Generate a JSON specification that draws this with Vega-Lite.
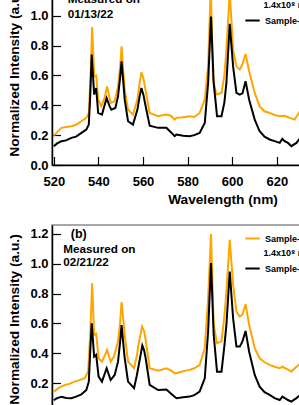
{
  "$schema": "https://vega.github.io/schema/vega-lite/v6.json",
  "padding": {"left": 7, "top": -24, "right": -93, "bottom": -15},
  "background": "white",
  "spacing": 60,
  "bounds": "flush",
  "resolve": {"scale": {"color": "independent"}, "legend": {"color": "independent"}},
  "config": {
    "font": "Liberation Sans",
    "view": {"stroke": "#8c8c8c", "strokeWidth": 1.5},
    "axis": {
      "grid": false,
      "labelFont": "Liberation Sans", "labelFontWeight": "bold", "labelFontSize": 13, "labelColor": "#000",
      "titleFont": "Liberation Sans", "titleFontWeight": "bold", "titleFontSize": 13.7, "titleColor": "#000",
      "domainColor": "#000", "domainWidth": 1.5, "tickColor": "#000", "tickWidth": 1.2,
      "labelFlush": false, "labelOverlap": false
    },
    "legend": {"padding": 0}
  },
  "datasets": {
    "spectra": [
      {"panel":"a","series":"Sample-3","wl":520.0,"val":0.197},{"panel":"a","series":"Sample-3","wl":523.4,"val":0.249},{"panel":"a","series":"Sample-3","wl":525.5,"val":0.255},{"panel":"a","series":"Sample-3","wl":527.9,"val":0.26},{"panel":"a","series":"Sample-3","wl":530,"val":0.27},{"panel":"a","series":"Sample-3","wl":532.4,"val":0.293},{"panel":"a","series":"Sample-3","wl":534.6,"val":0.316},{"panel":"a","series":"Sample-3","wl":535.7,"val":0.349},{"panel":"a","series":"Sample-3","wl":536.5,"val":0.6},{"panel":"a","series":"Sample-3","wl":537.2,"val":0.924},{"panel":"a","series":"Sample-3","wl":538.1,"val":0.594},{"panel":"a","series":"Sample-3","wl":539.0,"val":0.6},{"panel":"a","series":"Sample-3","wl":539.9,"val":0.438},{"panel":"a","series":"Sample-3","wl":541.3,"val":0.393},{"panel":"a","series":"Sample-3","wl":542.8,"val":0.45},{"panel":"a","series":"Sample-3","wl":543.9,"val":0.527},{"panel":"a","series":"Sample-3","wl":545.5,"val":0.416},{"panel":"a","series":"Sample-3","wl":547.3,"val":0.427},{"panel":"a","series":"Sample-3","wl":548.8,"val":0.527},{"panel":"a","series":"Sample-3","wl":549.7,"val":0.65},{"panel":"a","series":"Sample-3","wl":550.4,"val":0.795},{"panel":"a","series":"Sample-3","wl":551.2,"val":0.62},{"panel":"a","series":"Sample-3","wl":551.8,"val":0.505},{"panel":"a","series":"Sample-3","wl":553.3,"val":0.371},{"panel":"a","series":"Sample-3","wl":555.5,"val":0.338},{"panel":"a","series":"Sample-3","wl":557.5,"val":0.438},{"panel":"a","series":"Sample-3","wl":558.5,"val":0.55},{"panel":"a","series":"Sample-3","wl":559.3,"val":0.621},{"panel":"a","series":"Sample-3","wl":560.2,"val":0.58},{"panel":"a","series":"Sample-3","wl":561.1,"val":0.505},{"panel":"a","series":"Sample-3","wl":563.0,"val":0.349},{"panel":"a","series":"Sample-3","wl":566.8,"val":0.327},{"panel":"a","series":"Sample-3","wl":570.5,"val":0.338},{"panel":"a","series":"Sample-3","wl":572.5,"val":0.33},{"panel":"a","series":"Sample-3","wl":574.2,"val":0.304},{"panel":"a","series":"Sample-3","wl":575.0,"val":0.316},{"panel":"a","series":"Sample-3","wl":578,"val":0.32},{"panel":"a","series":"Sample-3","wl":580.9,"val":0.327},{"panel":"a","series":"Sample-3","wl":583,"val":0.322},{"panel":"a","series":"Sample-3","wl":585.4,"val":0.349},{"panel":"a","series":"Sample-3","wl":587.7,"val":0.438},{"panel":"a","series":"Sample-3","wl":589.2,"val":0.661},{"panel":"a","series":"Sample-3","wl":590.4,"val":1.2},{"panel":"a","series":"Sample-3","wl":591.4,"val":0.572},{"panel":"a","series":"Sample-3","wl":592.9,"val":0.472},{"panel":"a","series":"Sample-3","wl":595.2,"val":0.483},{"panel":"a","series":"Sample-3","wl":596.5,"val":0.6},{"panel":"a","series":"Sample-3","wl":597.4,"val":0.773},{"panel":"a","series":"Sample-3","wl":598.9,"val":1.16},{"panel":"a","series":"Sample-3","wl":600.4,"val":0.773},{"panel":"a","series":"Sample-3","wl":601.9,"val":0.661},{"panel":"a","series":"Sample-3","wl":603.4,"val":0.639},{"panel":"a","series":"Sample-3","wl":604.5,"val":0.672},{"panel":"a","series":"Sample-3","wl":606.0,"val":0.744},{"panel":"a","series":"Sample-3","wl":607.6,"val":0.627},{"panel":"a","series":"Sample-3","wl":610.1,"val":0.483},{"panel":"a","series":"Sample-3","wl":612.3,"val":0.393},{"panel":"a","series":"Sample-3","wl":614.5,"val":0.36},{"panel":"a","series":"Sample-3","wl":616.8,"val":0.349},{"panel":"a","series":"Sample-3","wl":619,"val":0.335},{"panel":"a","series":"Sample-3","wl":621.3,"val":0.327},{"panel":"a","series":"Sample-3","wl":623.5,"val":0.33},{"panel":"a","series":"Sample-3","wl":625.8,"val":0.316},{"panel":"a","series":"Sample-3","wl":628.0,"val":0.304},{"panel":"a","series":"Sample-3","wl":630.3,"val":0.36},{"panel":"a","series":"Sample-3","wl":632,"val":0.38},

      {"panel":"a","series":"Sample-5","wl":520.0,"val":0.126},{"panel":"a","series":"Sample-5","wl":521.5,"val":0.145},{"panel":"a","series":"Sample-5","wl":523.4,"val":0.159},{"panel":"a","series":"Sample-5","wl":525.5,"val":0.165},{"panel":"a","series":"Sample-5","wl":527.9,"val":0.182},{"panel":"a","series":"Sample-5","wl":530,"val":0.19},{"panel":"a","series":"Sample-5","wl":532.4,"val":0.215},{"panel":"a","series":"Sample-5","wl":534.6,"val":0.237},{"panel":"a","series":"Sample-5","wl":535.7,"val":0.271},{"panel":"a","series":"Sample-5","wl":536.3,"val":0.45},{"panel":"a","series":"Sample-5","wl":537.0,"val":0.74},{"panel":"a","series":"Sample-5","wl":538.1,"val":0.472},{"panel":"a","series":"Sample-5","wl":539.0,"val":0.516},{"panel":"a","series":"Sample-5","wl":539.9,"val":0.349},{"panel":"a","series":"Sample-5","wl":541.6,"val":0.338},{"panel":"a","series":"Sample-5","wl":543.7,"val":0.449},{"panel":"a","series":"Sample-5","wl":545.0,"val":0.394},{"panel":"a","series":"Sample-5","wl":545.8,"val":0.371},{"panel":"a","series":"Sample-5","wl":547.6,"val":0.382},{"panel":"a","series":"Sample-5","wl":548.8,"val":0.46},{"panel":"a","series":"Sample-5","wl":549.7,"val":0.58},{"panel":"a","series":"Sample-5","wl":550.4,"val":0.694},{"panel":"a","series":"Sample-5","wl":551.2,"val":0.55},{"panel":"a","series":"Sample-5","wl":551.8,"val":0.438},{"panel":"a","series":"Sample-5","wl":553.3,"val":0.293},{"panel":"a","series":"Sample-5","wl":555.5,"val":0.271},{"panel":"a","series":"Sample-5","wl":557.5,"val":0.371},{"panel":"a","series":"Sample-5","wl":558.5,"val":0.46},{"panel":"a","series":"Sample-5","wl":559.3,"val":0.516},{"panel":"a","series":"Sample-5","wl":560.2,"val":0.47},{"panel":"a","series":"Sample-5","wl":561.2,"val":0.394},{"panel":"a","series":"Sample-5","wl":563.0,"val":0.264},{"panel":"a","series":"Sample-5","wl":566.8,"val":0.249},{"panel":"a","series":"Sample-5","wl":570.5,"val":0.249},{"panel":"a","series":"Sample-5","wl":572.5,"val":0.22},{"panel":"a","series":"Sample-5","wl":574.2,"val":0.193},{"panel":"a","series":"Sample-5","wl":575.0,"val":0.204},{"panel":"a","series":"Sample-5","wl":578,"val":0.196},{"panel":"a","series":"Sample-5","wl":580.9,"val":0.193},{"panel":"a","series":"Sample-5","wl":583,"val":0.2},{"panel":"a","series":"Sample-5","wl":585.4,"val":0.215},{"panel":"a","series":"Sample-5","wl":587.7,"val":0.282},{"panel":"a","series":"Sample-5","wl":589.2,"val":0.55},{"panel":"a","series":"Sample-5","wl":590.5,"val":0.995},{"panel":"a","series":"Sample-5","wl":591.7,"val":0.55},{"panel":"a","series":"Sample-5","wl":593.2,"val":0.327},{"panel":"a","series":"Sample-5","wl":595.2,"val":0.327},{"panel":"a","series":"Sample-5","wl":596.5,"val":0.42},{"panel":"a","series":"Sample-5","wl":597.4,"val":0.55},{"panel":"a","series":"Sample-5","wl":598.9,"val":0.946},{"panel":"a","series":"Sample-5","wl":600.4,"val":0.661},{"panel":"a","series":"Sample-5","wl":601.9,"val":0.483},{"panel":"a","series":"Sample-5","wl":603.4,"val":0.472},{"panel":"a","series":"Sample-5","wl":604.6,"val":0.48},{"panel":"a","series":"Sample-5","wl":606.0,"val":0.561},{"panel":"a","series":"Sample-5","wl":607.6,"val":0.438},{"panel":"a","series":"Sample-5","wl":610.1,"val":0.304},{"panel":"a","series":"Sample-5","wl":612.3,"val":0.226},{"panel":"a","series":"Sample-5","wl":614.5,"val":0.19},{"panel":"a","series":"Sample-5","wl":616.8,"val":0.171},{"panel":"a","series":"Sample-5","wl":619,"val":0.16},{"panel":"a","series":"Sample-5","wl":621.3,"val":0.148},{"panel":"a","series":"Sample-5","wl":622.5,"val":0.175},{"panel":"a","series":"Sample-5","wl":623.5,"val":0.16},{"panel":"a","series":"Sample-5","wl":625,"val":0.148},{"panel":"a","series":"Sample-5","wl":626.5,"val":0.126},{"panel":"a","series":"Sample-5","wl":628.8,"val":0.148},{"panel":"a","series":"Sample-5","wl":630.5,"val":0.18},{"panel":"a","series":"Sample-5","wl":632,"val":0.19},

      {"panel":"b","series":"Sample-3","wl":520.0,"val":0.143},{"panel":"b","series":"Sample-3","wl":522.5,"val":0.17},{"panel":"b","series":"Sample-3","wl":524.9,"val":0.188},{"panel":"b","series":"Sample-3","wl":527,"val":0.195},{"panel":"b","series":"Sample-3","wl":529.4,"val":0.21},{"panel":"b","series":"Sample-3","wl":531.5,"val":0.22},{"panel":"b","series":"Sample-3","wl":533.9,"val":0.233},{"panel":"b","series":"Sample-3","wl":535.4,"val":0.277},{"panel":"b","series":"Sample-3","wl":536.4,"val":0.55},{"panel":"b","series":"Sample-3","wl":537.2,"val":0.87},{"panel":"b","series":"Sample-3","wl":538.1,"val":0.523},{"panel":"b","series":"Sample-3","wl":539.0,"val":0.53},{"panel":"b","series":"Sample-3","wl":540.1,"val":0.367},{"panel":"b","series":"Sample-3","wl":541.6,"val":0.344},{"panel":"b","series":"Sample-3","wl":543.0,"val":0.39},{"panel":"b","series":"Sample-3","wl":543.9,"val":0.423},{"panel":"b","series":"Sample-3","wl":545.5,"val":0.344},{"panel":"b","series":"Sample-3","wl":547.0,"val":0.378},{"panel":"b","series":"Sample-3","wl":548.8,"val":0.479},{"panel":"b","series":"Sample-3","wl":549.7,"val":0.6},{"panel":"b","series":"Sample-3","wl":550.4,"val":0.743},{"panel":"b","series":"Sample-3","wl":551.2,"val":0.62},{"panel":"b","series":"Sample-3","wl":551.8,"val":0.523},{"panel":"b","series":"Sample-3","wl":553.3,"val":0.344},{"panel":"b","series":"Sample-3","wl":556.0,"val":0.3},{"panel":"b","series":"Sample-3","wl":557.2,"val":0.38},{"panel":"b","series":"Sample-3","wl":558.1,"val":0.468},{"panel":"b","series":"Sample-3","wl":559.6,"val":0.579},{"panel":"b","series":"Sample-3","wl":560.5,"val":0.55},{"panel":"b","series":"Sample-3","wl":561.2,"val":0.49},{"panel":"b","series":"Sample-3","wl":563.0,"val":0.3},{"panel":"b","series":"Sample-3","wl":566.8,"val":0.284},{"panel":"b","series":"Sample-3","wl":570.5,"val":0.3},{"panel":"b","series":"Sample-3","wl":572.5,"val":0.285},{"panel":"b","series":"Sample-3","wl":574.2,"val":0.266},{"panel":"b","series":"Sample-3","wl":575.0,"val":0.266},{"panel":"b","series":"Sample-3","wl":578,"val":0.28},{"panel":"b","series":"Sample-3","wl":580.9,"val":0.289},{"panel":"b","series":"Sample-3","wl":583,"val":0.3},{"panel":"b","series":"Sample-3","wl":585.4,"val":0.322},{"panel":"b","series":"Sample-3","wl":587.7,"val":0.434},{"panel":"b","series":"Sample-3","wl":589.2,"val":0.77},{"panel":"b","series":"Sample-3","wl":590.5,"val":1.199},{"panel":"b","series":"Sample-3","wl":591.7,"val":0.59},{"panel":"b","series":"Sample-3","wl":593.2,"val":0.468},{"panel":"b","series":"Sample-3","wl":595.2,"val":0.48},{"panel":"b","series":"Sample-3","wl":596.5,"val":0.65},{"panel":"b","series":"Sample-3","wl":597.4,"val":0.814},{"panel":"b","series":"Sample-3","wl":598.9,"val":1.161},{"panel":"b","series":"Sample-3","wl":600.4,"val":0.859},{"panel":"b","series":"Sample-3","wl":601.9,"val":0.68},{"panel":"b","series":"Sample-3","wl":603.4,"val":0.646},{"panel":"b","series":"Sample-3","wl":604.6,"val":0.66},{"panel":"b","series":"Sample-3","wl":606.0,"val":0.729},{"panel":"b","series":"Sample-3","wl":607.6,"val":0.59},{"panel":"b","series":"Sample-3","wl":610.1,"val":0.434},{"panel":"b","series":"Sample-3","wl":612.3,"val":0.367},{"panel":"b","series":"Sample-3","wl":614.5,"val":0.34},{"panel":"b","series":"Sample-3","wl":616.8,"val":0.322},{"panel":"b","series":"Sample-3","wl":619,"val":0.31},{"panel":"b","series":"Sample-3","wl":621.3,"val":0.3},{"panel":"b","series":"Sample-3","wl":622.5,"val":0.31},{"panel":"b","series":"Sample-3","wl":625,"val":0.29},{"panel":"b","series":"Sample-3","wl":626.5,"val":0.277},{"panel":"b","series":"Sample-3","wl":628.8,"val":0.31},{"panel":"b","series":"Sample-3","wl":630.5,"val":0.33},{"panel":"b","series":"Sample-3","wl":632,"val":0.34},

      {"panel":"b","series":"Sample-5","wl":520.0,"val":0.087},{"panel":"b","series":"Sample-5","wl":521.5,"val":0.1},{"panel":"b","series":"Sample-5","wl":523.4,"val":0.109},{"panel":"b","series":"Sample-5","wl":525.5,"val":0.1},{"panel":"b","series":"Sample-5","wl":527.9,"val":0.099},{"panel":"b","series":"Sample-5","wl":530,"val":0.11},{"panel":"b","series":"Sample-5","wl":532.4,"val":0.125},{"panel":"b","series":"Sample-5","wl":534.6,"val":0.154},{"panel":"b","series":"Sample-5","wl":535.7,"val":0.21},{"panel":"b","series":"Sample-5","wl":536.3,"val":0.4},{"panel":"b","series":"Sample-5","wl":537.0,"val":0.602},{"panel":"b","series":"Sample-5","wl":538.1,"val":0.378},{"panel":"b","series":"Sample-5","wl":539.0,"val":0.39},{"panel":"b","series":"Sample-5","wl":540.1,"val":0.244},{"panel":"b","series":"Sample-5","wl":541.6,"val":0.21},{"panel":"b","series":"Sample-5","wl":543.7,"val":0.3},{"panel":"b","series":"Sample-5","wl":545.5,"val":0.221},{"panel":"b","series":"Sample-5","wl":547.3,"val":0.255},{"panel":"b","series":"Sample-5","wl":548.8,"val":0.344},{"panel":"b","series":"Sample-5","wl":549.7,"val":0.47},{"panel":"b","series":"Sample-5","wl":550.4,"val":0.59},{"panel":"b","series":"Sample-5","wl":551.2,"val":0.46},{"panel":"b","series":"Sample-5","wl":551.8,"val":0.367},{"panel":"b","series":"Sample-5","wl":553.3,"val":0.21},{"panel":"b","series":"Sample-5","wl":556.0,"val":0.166},{"panel":"b","series":"Sample-5","wl":557.2,"val":0.25},{"panel":"b","series":"Sample-5","wl":558.1,"val":0.322},{"panel":"b","series":"Sample-5","wl":559.7,"val":0.452},{"panel":"b","series":"Sample-5","wl":560.5,"val":0.42},{"panel":"b","series":"Sample-5","wl":561.2,"val":0.367},{"panel":"b","series":"Sample-5","wl":563.0,"val":0.188},{"panel":"b","series":"Sample-5","wl":566.8,"val":0.154},{"panel":"b","series":"Sample-5","wl":570.5,"val":0.158},{"panel":"b","series":"Sample-5","wl":572.5,"val":0.13},{"panel":"b","series":"Sample-5","wl":574.2,"val":0.109},{"panel":"b","series":"Sample-5","wl":575.0,"val":0.099},{"panel":"b","series":"Sample-5","wl":578,"val":0.105},{"panel":"b","series":"Sample-5","wl":580.9,"val":0.11},{"panel":"b","series":"Sample-5","wl":583,"val":0.12},{"panel":"b","series":"Sample-5","wl":585.4,"val":0.143},{"panel":"b","series":"Sample-5","wl":587.7,"val":0.233},{"panel":"b","series":"Sample-5","wl":589.2,"val":0.546},{"panel":"b","series":"Sample-5","wl":590.5,"val":1.005},{"panel":"b","series":"Sample-5","wl":591.7,"val":0.523},{"panel":"b","series":"Sample-5","wl":593.2,"val":0.277},{"panel":"b","series":"Sample-5","wl":595.2,"val":0.277},{"panel":"b","series":"Sample-5","wl":596.5,"val":0.45},{"panel":"b","series":"Sample-5","wl":597.4,"val":0.59},{"panel":"b","series":"Sample-5","wl":598.9,"val":0.948},{"panel":"b","series":"Sample-5","wl":600.4,"val":0.635},{"panel":"b","series":"Sample-5","wl":601.9,"val":0.445},{"panel":"b","series":"Sample-5","wl":603.4,"val":0.445},{"panel":"b","series":"Sample-5","wl":604.6,"val":0.48},{"panel":"b","series":"Sample-5","wl":606.0,"val":0.55},{"panel":"b","series":"Sample-5","wl":607.6,"val":0.411},{"panel":"b","series":"Sample-5","wl":610.1,"val":0.255},{"panel":"b","series":"Sample-5","wl":612.3,"val":0.177},{"panel":"b","series":"Sample-5","wl":614.5,"val":0.14},{"panel":"b","series":"Sample-5","wl":616.8,"val":0.121},{"panel":"b","series":"Sample-5","wl":619,"val":0.1},{"panel":"b","series":"Sample-5","wl":621.3,"val":0.087},{"panel":"b","series":"Sample-5","wl":622.5,"val":0.11},{"panel":"b","series":"Sample-5","wl":625,"val":0.087},{"panel":"b","series":"Sample-5","wl":626.5,"val":0.076},{"panel":"b","series":"Sample-5","wl":628.8,"val":0.1},{"panel":"b","series":"Sample-5","wl":630.5,"val":0.12},{"panel":"b","series":"Sample-5","wl":632,"val":0.13}
    ],
    "tags": [
      {"panel":"a","label":"(a)","wl":529.5,"val":1.173},
      {"panel":"b","label":"(b)","wl":527.6,"val":1.173}
    ],
    "notes": [
      {"panel":"a","label":"Measured on","wl":526.3,"val":1.084},
      {"panel":"a","label":"01/13/22","wl":526.3,"val":0.983},
      {"panel":"b","label":"Measured on","wl":524.3,"val":1.07},
      {"panel":"b","label":"02/21/22","wl":524.3,"val":0.985}
    ],
    "legendnotes": [
      {"panel":"a","label":"1.4x10⁸ n/cm²","wl":614.0,"val":1.05},
      {"panel":"b","label":"1.4x10⁸ n/cm²","wl":614.0,"val":1.05}
    ]
  },
  "vconcat": [
    {
      "width": 341, "height": 188,
      "layer": [
        {
          "data": {"name": "spectra"},
          "transform": [{"filter": "datum.panel == 'a'"}],
          "mark": {"type": "line", "clip": true, "strokeWidth": 2},
          "encoding": {
            "x": {"field": "wl", "type": "quantitative", "scale": {"domain": [519.2, 672.1], "nice": false, "zero": false},
                  "axis": {"values": [520, 540, 560, 580, 600, 620, 640, 660], "tickCount": 20, "format": "d", "tickSize": -8.5, "labelPadding": 18.5, "labelOverlap": false, "title": "Wavelength (nm)", "titlePadding": 4}},
            "y": {"field": "val", "type": "quantitative", "scale": {"domain": [0, 1.26], "nice": false},
                  "axis": {"values": [0, 0.2, 0.4, 0.6, 0.8, 1.0, 1.2], "tickCount": 20, "format": ".1f", "tickSize": -8.5, "labelPadding": 12.5, "labelOverlap": false, "title": "Normalized Intensity (a.u.)", "titlePadding": 8}},
            "color": {"field": "series", "type": "nominal", "scale": {"domain": ["Sample-3", "Sample-5"], "range": ["#FFA500", "#000000"]},
                      "legend": {"orient": "none", "legendX": 192, "legendY": 5, "title": null, "symbolType": "stroke", "symbolSize": 207, "symbolStrokeWidth": 2, "labelFontSize": 9, "labelFontWeight": "bold", "labelColor": "#000", "labelFont": "Liberation Sans", "rowPadding": 16, "labelOffset": 4}}
          }
        },
        {
          "data": {"name": "tags"},
          "transform": [{"filter": "datum.panel == 'a'"}],
          "mark": {"type": "text", "align": "left", "baseline": "alphabetic", "fontSize": 12.5, "fontWeight": "bold", "font": "Liberation Sans", "color": "#000"},
          "encoding": {"x": {"field": "wl", "type": "quantitative"}, "y": {"field": "val", "type": "quantitative"}, "text": {"field": "label"}}
        },
        {
          "data": {"name": "notes"},
          "transform": [{"filter": "datum.panel == 'a'"}],
          "mark": {"type": "text", "align": "left", "baseline": "alphabetic", "fontSize": 11.7, "fontWeight": "bold", "font": "Liberation Sans", "color": "#000"},
          "encoding": {"x": {"field": "wl", "type": "quantitative"}, "y": {"field": "val", "type": "quantitative"}, "text": {"field": "label"}}
        },
        {
          "data": {"name": "legendnotes"},
          "transform": [{"filter": "datum.panel == 'a'"}],
          "mark": {"type": "text", "align": "left", "baseline": "alphabetic", "fontSize": 9, "fontWeight": "bold", "font": "Liberation Sans", "color": "#000"},
          "encoding": {"x": {"field": "wl", "type": "quantitative"}, "y": {"field": "val", "type": "quantitative"}, "text": {"field": "label"}}
        }
      ]
    },
    {
      "width": 341, "height": 188,
      "layer": [
        {
          "data": {"name": "spectra"},
          "transform": [{"filter": "datum.panel == 'b'"}],
          "mark": {"type": "line", "clip": true, "strokeWidth": 2},
          "encoding": {
            "x": {"field": "wl", "type": "quantitative", "scale": {"domain": [519.2, 672.1], "nice": false, "zero": false}, "axis": null},
            "y": {"field": "val", "type": "quantitative", "scale": {"domain": [0, 1.26], "nice": false},
                  "axis": {"values": [0, 0.2, 0.4, 0.6, 0.8, 1.0, 1.2], "tickCount": 20, "format": ".1f", "tickSize": -8.5, "labelPadding": 12.5, "labelOverlap": false, "title": "Normalized Intensity (a.u.)", "titlePadding": 8}},
            "color": {"field": "series", "type": "nominal", "scale": {"domain": ["Sample-3", "Sample-5"], "range": ["#FFA500", "#000000"]},
                      "legend": {"orient": "none", "legendX": 192, "legendY": 5, "title": null, "symbolType": "stroke", "symbolSize": 207, "symbolStrokeWidth": 2, "labelFontSize": 9, "labelFontWeight": "bold", "labelColor": "#000", "labelFont": "Liberation Sans", "rowPadding": 16, "labelOffset": 4}}
          }
        },
        {
          "data": {"name": "tags"},
          "transform": [{"filter": "datum.panel == 'b'"}],
          "mark": {"type": "text", "align": "left", "baseline": "alphabetic", "fontSize": 12.5, "fontWeight": "bold", "font": "Liberation Sans", "color": "#000"},
          "encoding": {"x": {"field": "wl", "type": "quantitative"}, "y": {"field": "val", "type": "quantitative"}, "text": {"field": "label"}}
        },
        {
          "data": {"name": "notes"},
          "transform": [{"filter": "datum.panel == 'b'"}],
          "mark": {"type": "text", "align": "left", "baseline": "alphabetic", "fontSize": 11.7, "fontWeight": "bold", "font": "Liberation Sans", "color": "#000"},
          "encoding": {"x": {"field": "wl", "type": "quantitative"}, "y": {"field": "val", "type": "quantitative"}, "text": {"field": "label"}}
        },
        {
          "data": {"name": "legendnotes"},
          "transform": [{"filter": "datum.panel == 'b'"}],
          "mark": {"type": "text", "align": "left", "baseline": "alphabetic", "fontSize": 9, "fontWeight": "bold", "font": "Liberation Sans", "color": "#000"},
          "encoding": {"x": {"field": "wl", "type": "quantitative"}, "y": {"field": "val", "type": "quantitative"}, "text": {"field": "label"}}
        }
      ]
    }
  ]
}
